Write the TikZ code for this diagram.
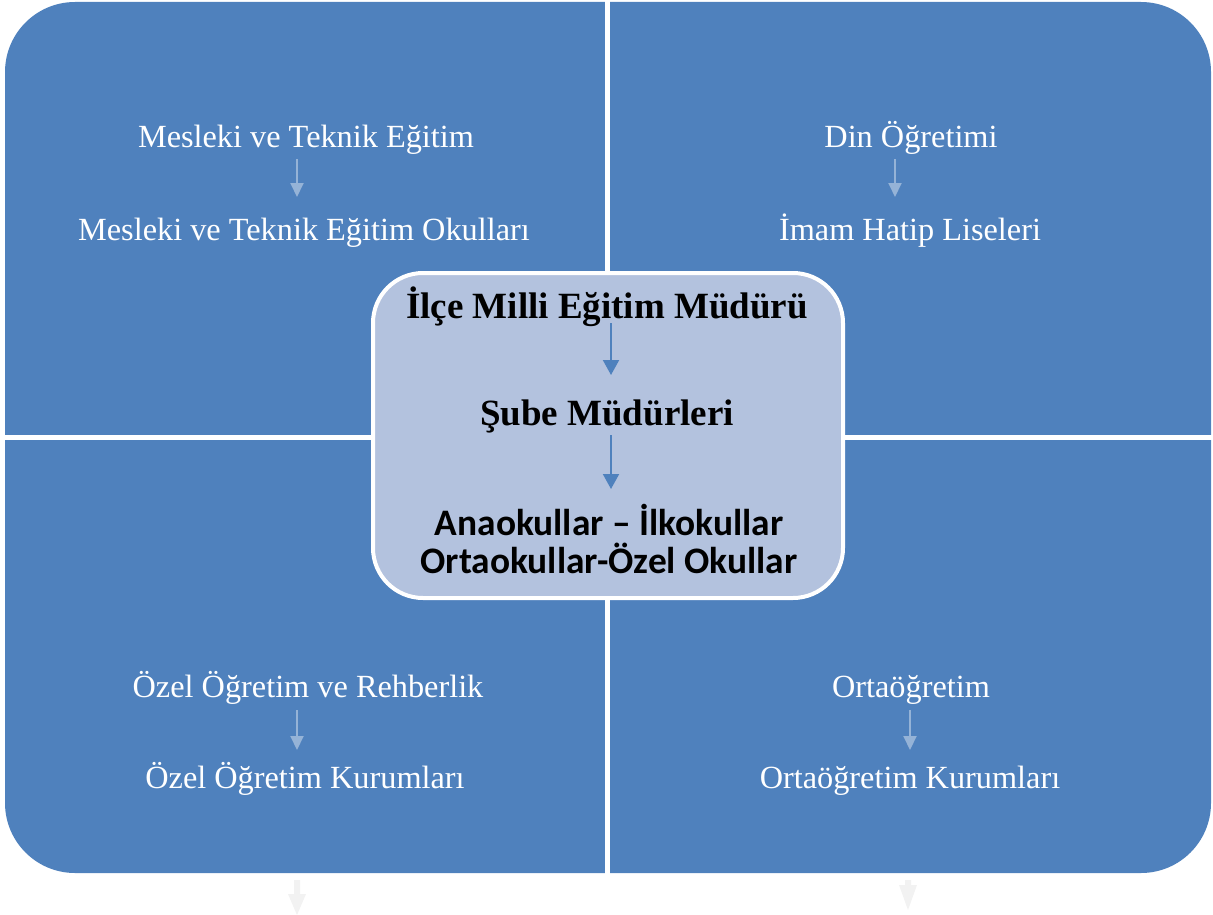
\documentclass[tikz,border=0pt]{standalone}
\usepackage{fontspec}
\setmainfont{Liberation Serif}
\newfontfamily\calib{Carlito}
\usetikzlibrary{arrows.meta}
\definecolor{quad}{HTML}{4F81BD}
\definecolor{cbox}{HTML}{B3C2DE}
\definecolor{larrow}{HTML}{95B3D7}
\definecolor{garrow}{HTML}{F2F2F2}
\tikzset{
  qtext/.style={text=white,font=\fontsize{32.3}{38}\selectfont,anchor=base,inner sep=0pt},
  ctext/.style={text=black,font=\bfseries\fontsize{37}{42}\selectfont,anchor=base,inner sep=0pt},
  stext/.style={text=black,font=\calib\bfseries\fontsize{37.4}{42}\selectfont,anchor=base,inner sep=0pt},
  qarrow/.style={draw=larrow,line width=2pt,-{Triangle[width=13pt,length=14pt]}},
  carrow/.style={draw=quad,line width=2pt,-{Triangle[width=16pt,length=15pt]}},
  garr/.style={fill=garrow,draw=none},
}
\begin{document}
\begin{tikzpicture}[x=1pt,y=-1pt]
\useasboundingbox (0,0) rectangle (1213,915);
% quadrants
\fill[quad,rounded corners=70pt] (5,2) rectangle (1211,873);
\fill[white] (605,0) rectangle (610,875);
\fill[white] (0,435) rectangle (1213,440);
% center box
\node[draw=white,line width=4pt,fill=cbox,rounded corners=50pt,minimum width=470pt,minimum height=325pt,inner sep=0pt] (cb) at (608,435.5) {};
% top-left
\node[qtext] (tl1) at (306,148) {Mesleki ve Teknik Eğitim};
\node[qtext] (tl2) at (304,240) {Mesleki ve Teknik Eğitim Okulları};
\coordinate (tla) at (297,159);
\coordinate (tlb) at (297,197);
\draw[qarrow] (tla) -- (tlb);
% top-right
\node[qtext] (tr1) at (911,148) {Din Öğretimi};
\node[qtext] (tr2) at (910,240) {İmam Hatip Liseleri};
\coordinate (tra) at (895,159);
\coordinate (trb) at (895,197);
\draw[qarrow] (tra) -- (trb);
% bottom-left
\node[qtext] (bl1) at (308,697) {Özel Öğretim ve Rehberlik};
\node[qtext] (bl2) at (305,788) {Özel Öğretim Kurumları};
\coordinate (bla) at (297,710);
\coordinate (blb) at (297,750);
\draw[qarrow] (bla) -- (blb);
% bottom-right
\node[qtext] (br1) at (911,697) {Ortaöğretim};
\node[qtext] (br2) at (910,788) {Ortaöğretim Kurumları};
\coordinate (bra) at (910,710);
\coordinate (brb) at (910,750);
\draw[qarrow] (bra) -- (brb);
% center texts
\node[ctext] (c1) at (607,318) {İlçe Milli Eğitim Müdürü};
\node[ctext] (c2) at (607,425) {Şube Müdürleri};
\node[stext] (c3) at (609,535) {Anaokullar – İlkokullar};
\node[stext] (c4) at (609,573) {Ortaokullar-Özel Okullar};
\coordinate (ca) at (611,323);
\coordinate (cbb) at (611,375);
\coordinate (cc) at (611,435);
\coordinate (cd) at (611,489);
\draw[carrow] (ca) -- (cbb);
\draw[carrow] (cc) -- (cd);
% bottom gray block arrows
\fill[garr] (294,880) -- (300,880) -- (300,894) -- (306,894) -- (297,915) -- (288,894) -- (294,894) -- cycle;
\fill[garr] (905,880) -- (911,880) -- (911,885) -- (917,885) -- (908,910) -- (899,885) -- (905,885) -- cycle;
\end{tikzpicture}
\end{document}
